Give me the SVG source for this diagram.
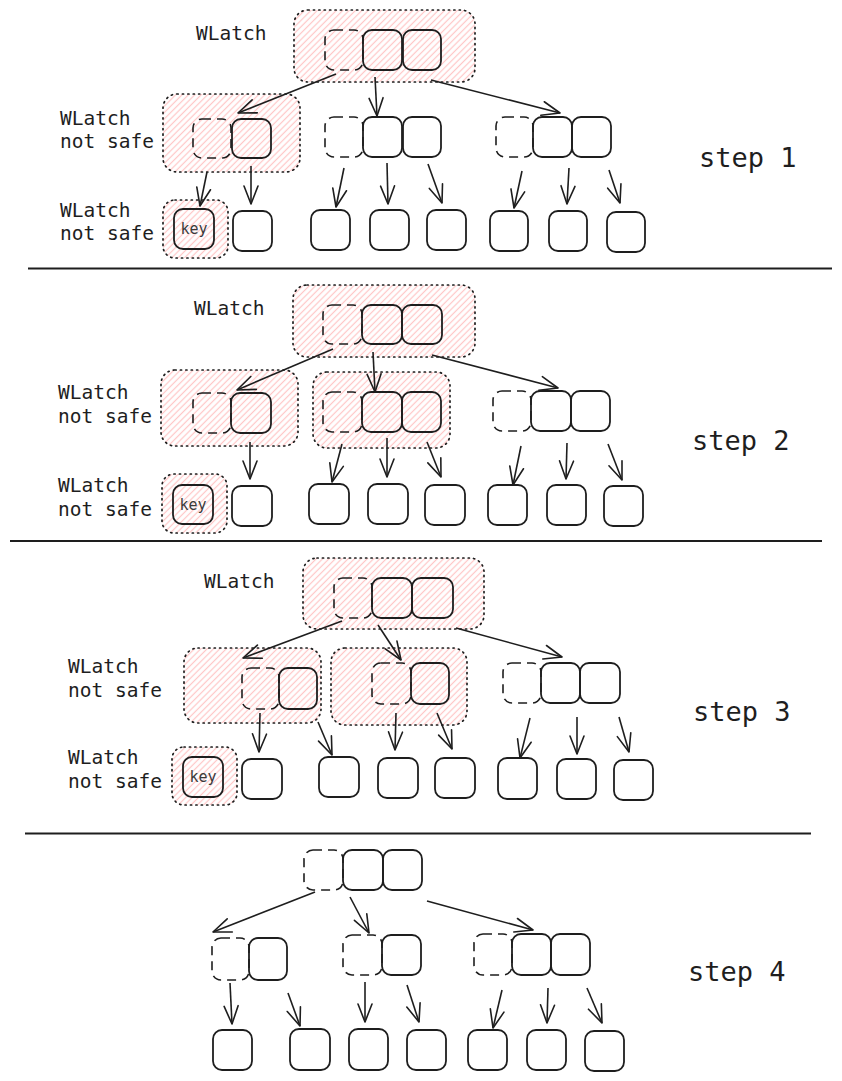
<svg xmlns="http://www.w3.org/2000/svg" width="842" height="1081" viewBox="0 0 842 1081">
<style>
.bg{fill:#ffffff}
.box{fill:none;stroke:#1e1e1e;stroke-width:1.8}
.dash{fill:none;stroke:#1e1e1e;stroke-width:1.6;stroke-dasharray:9 6}
.latch{fill:url(#hatch);stroke:#1e1e1e;stroke-width:1.7;stroke-dasharray:1.2 4.2;stroke-linecap:round}
.lbl{font-family:"DejaVu Sans Mono","Liberation Mono",monospace;font-size:19.5px;fill:#1e1e1e}
.step{font-family:"DejaVu Sans Mono","Liberation Mono",monospace;font-size:27px;fill:#1e1e1e}
.key{font-family:"DejaVu Sans Mono","Liberation Mono",monospace;font-size:15px;fill:#3a3a3a;text-anchor:middle}
.arr{fill:none;stroke:#1e1e1e;stroke-width:1.6;marker-end:url(#ah)}
.sep{stroke:#1e1e1e;stroke-width:2}
</style>
<defs>
<pattern id="hatch" patternUnits="userSpaceOnUse" width="4.5" height="10" patternTransform="rotate(45)">
<line x1="2.25" y1="0" x2="2.25" y2="10" stroke="#ffb3b3" stroke-width="1.2" stroke-opacity="0.75"/>
</pattern>
<marker id="ah" markerUnits="userSpaceOnUse" markerWidth="24" markerHeight="20" viewBox="-21 -10 23 20" refX="0" refY="0" orient="auto">
<path d="M-18,-7 L0,0 L-18,7" fill="none" stroke="#1e1e1e" stroke-width="1.6" stroke-linecap="round" stroke-linejoin="round"/>
</marker>
</defs>
<rect class="bg" x="0" y="0" width="842" height="1081"/>

<!-- STEP 1 -->
<g id="s1-top">
<rect class="latch" x="294" y="10" width="181" height="72" rx="14"/>
<rect class="dash" x="325" y="30" width="38" height="40" rx="9"/>
<rect class="box" x="363" y="30" width="39" height="40" rx="9"/>
<rect class="box" x="403" y="30" width="38" height="40" rx="9"/>
</g>
<g id="s1-left">
<rect class="latch" x="163" y="94" width="137" height="78" rx="14"/>
<rect class="dash" x="193" y="119" width="38" height="39" rx="9"/>
<rect class="box" x="232" y="119" width="39" height="39" rx="9"/>
</g>
<g id="s1-mid">
<rect class="dash" x="325" y="117" width="38" height="40" rx="9"/>
<rect class="box" x="363" y="117" width="39" height="40" rx="9"/>
<rect class="box" x="403" y="117" width="38" height="40" rx="9"/>
</g>
<g id="s1-right">
<rect class="dash" x="496" y="117" width="37" height="40" rx="9"/>
<rect class="box" x="533" y="117" width="39" height="40" rx="9"/>
<rect class="box" x="572" y="117" width="39" height="40" rx="9"/>
</g>
<g id="s1-key">
<rect class="latch" x="163" y="200" width="65" height="58" rx="12"/>
<rect class="box" x="174" y="209" width="40" height="40" rx="9"/>
<text class="key" x="194" y="234">key</text>
</g>
<g id="s1-leaves">
<rect class="box" x="233" y="211" width="39" height="40" rx="9"/>
<rect class="box" x="311" y="210" width="39" height="40" rx="9"/>
<rect class="box" x="370" y="210" width="39" height="40" rx="9"/>
<rect class="box" x="427" y="210" width="39" height="40" rx="9"/>
<rect class="box" x="490" y="211" width="38" height="40" rx="9"/>
<rect class="box" x="549" y="211" width="38" height="40" rx="9"/>
<rect class="box" x="607" y="212" width="38" height="40" rx="9"/>
</g>
<g id="s1-labels">
<text class="lbl" x="196" y="40">WLatch</text>
<text class="lbl" x="60" y="125">WLatch</text>
<text class="lbl" x="60" y="148">not safe</text>
<text class="lbl" x="60" y="217">WLatch</text>
<text class="lbl" x="60" y="240">not safe</text>
<text class="step" x="699" y="167">step 1</text>
</g>

<!-- STEP 2 -->
<g id="s2-top">
<rect class="latch" x="293" y="285" width="182" height="72" rx="14"/>
<rect class="dash" x="323" y="305" width="39" height="39" rx="9"/>
<rect class="box" x="362" y="305" width="40" height="39" rx="9"/>
<rect class="box" x="402" y="305" width="40" height="39" rx="9"/>
</g>
<g id="s2-left">
<rect class="latch" x="161" y="370" width="137" height="76" rx="14"/>
<rect class="dash" x="193" y="393" width="38" height="40" rx="9"/>
<rect class="box" x="231" y="393" width="40" height="40" rx="9"/>
</g>
<g id="s2-mid">
<rect class="latch" x="313" y="372" width="137" height="76" rx="14"/>
<rect class="dash" x="323" y="392" width="39" height="40" rx="9"/>
<rect class="box" x="362" y="392" width="40" height="40" rx="9"/>
<rect class="box" x="402" y="392" width="39" height="40" rx="9"/>
</g>
<g id="s2-right">
<rect class="dash" x="493" y="391" width="38" height="40" rx="9"/>
<rect class="box" x="531" y="391" width="40" height="40" rx="9"/>
<rect class="box" x="571" y="391" width="39" height="40" rx="9"/>
</g>
<g id="s2-key">
<rect class="latch" x="162" y="474" width="65" height="59" rx="12"/>
<rect class="box" x="173" y="485" width="40" height="39" rx="9"/>
<text class="key" x="193" y="510">key</text>
</g>
<g id="s2-leaves">
<rect class="box" x="232" y="486" width="40" height="40" rx="9"/>
<rect class="box" x="309" y="484" width="40" height="40" rx="9"/>
<rect class="box" x="368" y="484" width="40" height="40" rx="9"/>
<rect class="box" x="425" y="485" width="40" height="40" rx="9"/>
<rect class="box" x="488" y="485" width="39" height="40" rx="9"/>
<rect class="box" x="547" y="485" width="39" height="40" rx="9"/>
<rect class="box" x="604" y="486" width="39" height="40" rx="9"/>
</g>
<g id="s2-labels">
<text class="lbl" x="194" y="315">WLatch</text>
<text class="lbl" x="58" y="399">WLatch</text>
<text class="lbl" x="58" y="423">not safe</text>
<text class="lbl" x="58" y="492">WLatch</text>
<text class="lbl" x="58" y="516">not safe</text>
<text class="step" x="692" y="450">step 2</text>
</g>

<!-- STEP 3 -->
<g id="s3-top">
<rect class="latch" x="303" y="558" width="181" height="71" rx="14"/>
<rect class="dash" x="334" y="578" width="38" height="40" rx="9"/>
<rect class="box" x="372" y="578" width="40" height="40" rx="9"/>
<rect class="box" x="412" y="578" width="41" height="40" rx="9"/>
</g>
<g id="s3-left">
<rect class="latch" x="184" y="648" width="137" height="75" rx="14"/>
<rect class="dash" x="242" y="668" width="37" height="41" rx="9"/>
<rect class="box" x="279" y="668" width="38" height="41" rx="9"/>
</g>
<g id="s3-mid">
<rect class="latch" x="331" y="648" width="136" height="77" rx="14"/>
<rect class="dash" x="372" y="663" width="39" height="41" rx="9"/>
<rect class="box" x="411" y="663" width="38" height="41" rx="9"/>
</g>
<g id="s3-right">
<rect class="dash" x="503" y="663" width="38" height="40" rx="9"/>
<rect class="box" x="541" y="663" width="39" height="40" rx="9"/>
<rect class="box" x="580" y="663" width="40" height="40" rx="9"/>
</g>
<g id="s3-key">
<rect class="latch" x="172" y="747" width="65" height="58" rx="12"/>
<rect class="box" x="183" y="757" width="40" height="40" rx="9"/>
<text class="key" x="203" y="782">key</text>
</g>
<g id="s3-leaves">
<rect class="box" x="242" y="759" width="40" height="40" rx="9"/>
<rect class="box" x="319" y="757" width="40" height="40" rx="9"/>
<rect class="box" x="378" y="758" width="40" height="40" rx="9"/>
<rect class="box" x="435" y="758" width="40" height="40" rx="9"/>
<rect class="box" x="498" y="758" width="39" height="41" rx="9"/>
<rect class="box" x="557" y="759" width="39" height="40" rx="9"/>
<rect class="box" x="614" y="760" width="39" height="40" rx="9"/>
</g>
<g id="s3-labels">
<text class="lbl" x="204" y="588">WLatch</text>
<text class="lbl" x="68" y="673">WLatch</text>
<text class="lbl" x="68" y="697">not safe</text>
<text class="lbl" x="68" y="764">WLatch</text>
<text class="lbl" x="68" y="788">not safe</text>
<text class="step" x="693" y="721">step 3</text>
</g>

<!-- STEP 4 -->
<g id="s4-top">
<rect class="dash" x="304" y="850" width="39" height="40" rx="9"/>
<rect class="box" x="343" y="850" width="40" height="40" rx="9"/>
<rect class="box" x="383" y="850" width="39" height="40" rx="9"/>
</g>
<g id="s4-left">
<rect class="dash" x="212" y="938" width="37" height="42" rx="9"/>
<rect class="box" x="249" y="938" width="38" height="42" rx="9"/>
</g>
<g id="s4-mid">
<rect class="dash" x="343" y="935" width="39" height="40" rx="9"/>
<rect class="box" x="382" y="935" width="39" height="40" rx="9"/>
</g>
<g id="s4-right">
<rect class="dash" x="474" y="934" width="38" height="41" rx="9"/>
<rect class="box" x="512" y="934" width="39" height="41" rx="9"/>
<rect class="box" x="551" y="934" width="39" height="41" rx="9"/>
</g>
<g id="s4-leaves">
<rect class="box" x="213" y="1030" width="39" height="40" rx="9"/>
<rect class="box" x="290" y="1029" width="40" height="41" rx="9"/>
<rect class="box" x="349" y="1029" width="39" height="41" rx="9"/>
<rect class="box" x="407" y="1030" width="39" height="40" rx="9"/>
<rect class="box" x="468" y="1030" width="39" height="40" rx="9"/>
<rect class="box" x="527" y="1030" width="39" height="40" rx="9"/>
<rect class="box" x="585" y="1031" width="39" height="40" rx="9"/>
</g>
<g id="s4-labels">
<text class="step" x="688" y="981">step 4</text>
</g>

<g id="separators">
<line class="sep" x1="28" y1="268.5" x2="832" y2="268.5"/>
<line class="sep" x1="10" y1="541" x2="822" y2="541"/>
<line class="sep" x1="25" y1="833.5" x2="811" y2="833.5"/>
</g>

<g id="connectors">
<line class="arr" x1="336" y1="74" x2="238" y2="113"/>
<line class="arr" x1="375" y1="77" x2="377" y2="116"/>
<line class="arr" x1="431" y1="80" x2="560" y2="113"/>
<line class="arr" x1="207" y1="172" x2="200" y2="206"/>
<line class="arr" x1="251" y1="166" x2="251" y2="204"/>
<line class="arr" x1="344" y1="168" x2="336" y2="207"/>
<line class="arr" x1="387" y1="163" x2="388" y2="204"/>
<line class="arr" x1="428" y1="164" x2="442" y2="203"/>
<line class="arr" x1="522" y1="171" x2="514" y2="208"/>
<line class="arr" x1="569" y1="168" x2="567" y2="204"/>
<line class="arr" x1="609" y1="170" x2="620" y2="203"/>

<line class="arr" x1="333" y1="349" x2="237" y2="390"/>
<line class="arr" x1="373" y1="352" x2="375" y2="392"/>
<line class="arr" x1="432" y1="355" x2="558" y2="388"/>
<line class="arr" x1="250" y1="442" x2="250" y2="479"/>
<line class="arr" x1="342" y1="444" x2="332" y2="482"/>
<line class="arr" x1="387" y1="438" x2="387" y2="477"/>
<line class="arr" x1="427" y1="442" x2="441" y2="477"/>
<line class="arr" x1="521" y1="446" x2="513" y2="485"/>
<line class="arr" x1="567" y1="443" x2="566" y2="479"/>
<line class="arr" x1="608" y1="444" x2="622" y2="480"/>

<line class="arr" x1="342" y1="621" x2="243" y2="658"/>
<line class="arr" x1="378" y1="625" x2="401" y2="660"/>
<line class="arr" x1="456" y1="628" x2="562" y2="657"/>
<line class="arr" x1="260" y1="713" x2="259" y2="752"/>
<line class="arr" x1="318" y1="722" x2="332" y2="755"/>
<line class="arr" x1="396" y1="713" x2="395" y2="750"/>
<line class="arr" x1="437" y1="713" x2="452" y2="749"/>
<line class="arr" x1="530" y1="718" x2="520" y2="758"/>
<line class="arr" x1="577" y1="717" x2="577" y2="754"/>
<line class="arr" x1="619" y1="717" x2="629" y2="752"/>

<line class="arr" x1="315" y1="892" x2="213" y2="932"/>
<line class="arr" x1="350" y1="897" x2="369" y2="933"/>
<line class="arr" x1="427" y1="901" x2="533" y2="930"/>
<line class="arr" x1="230" y1="983" x2="232" y2="1024"/>
<line class="arr" x1="288" y1="993" x2="300" y2="1026"/>
<line class="arr" x1="365" y1="982" x2="365" y2="1022"/>
<line class="arr" x1="407" y1="985" x2="419" y2="1022"/>
<line class="arr" x1="502" y1="990" x2="493" y2="1028"/>
<line class="arr" x1="548" y1="988" x2="547" y2="1023"/>
<line class="arr" x1="587" y1="988" x2="602" y2="1023"/>
</g>
</svg>
